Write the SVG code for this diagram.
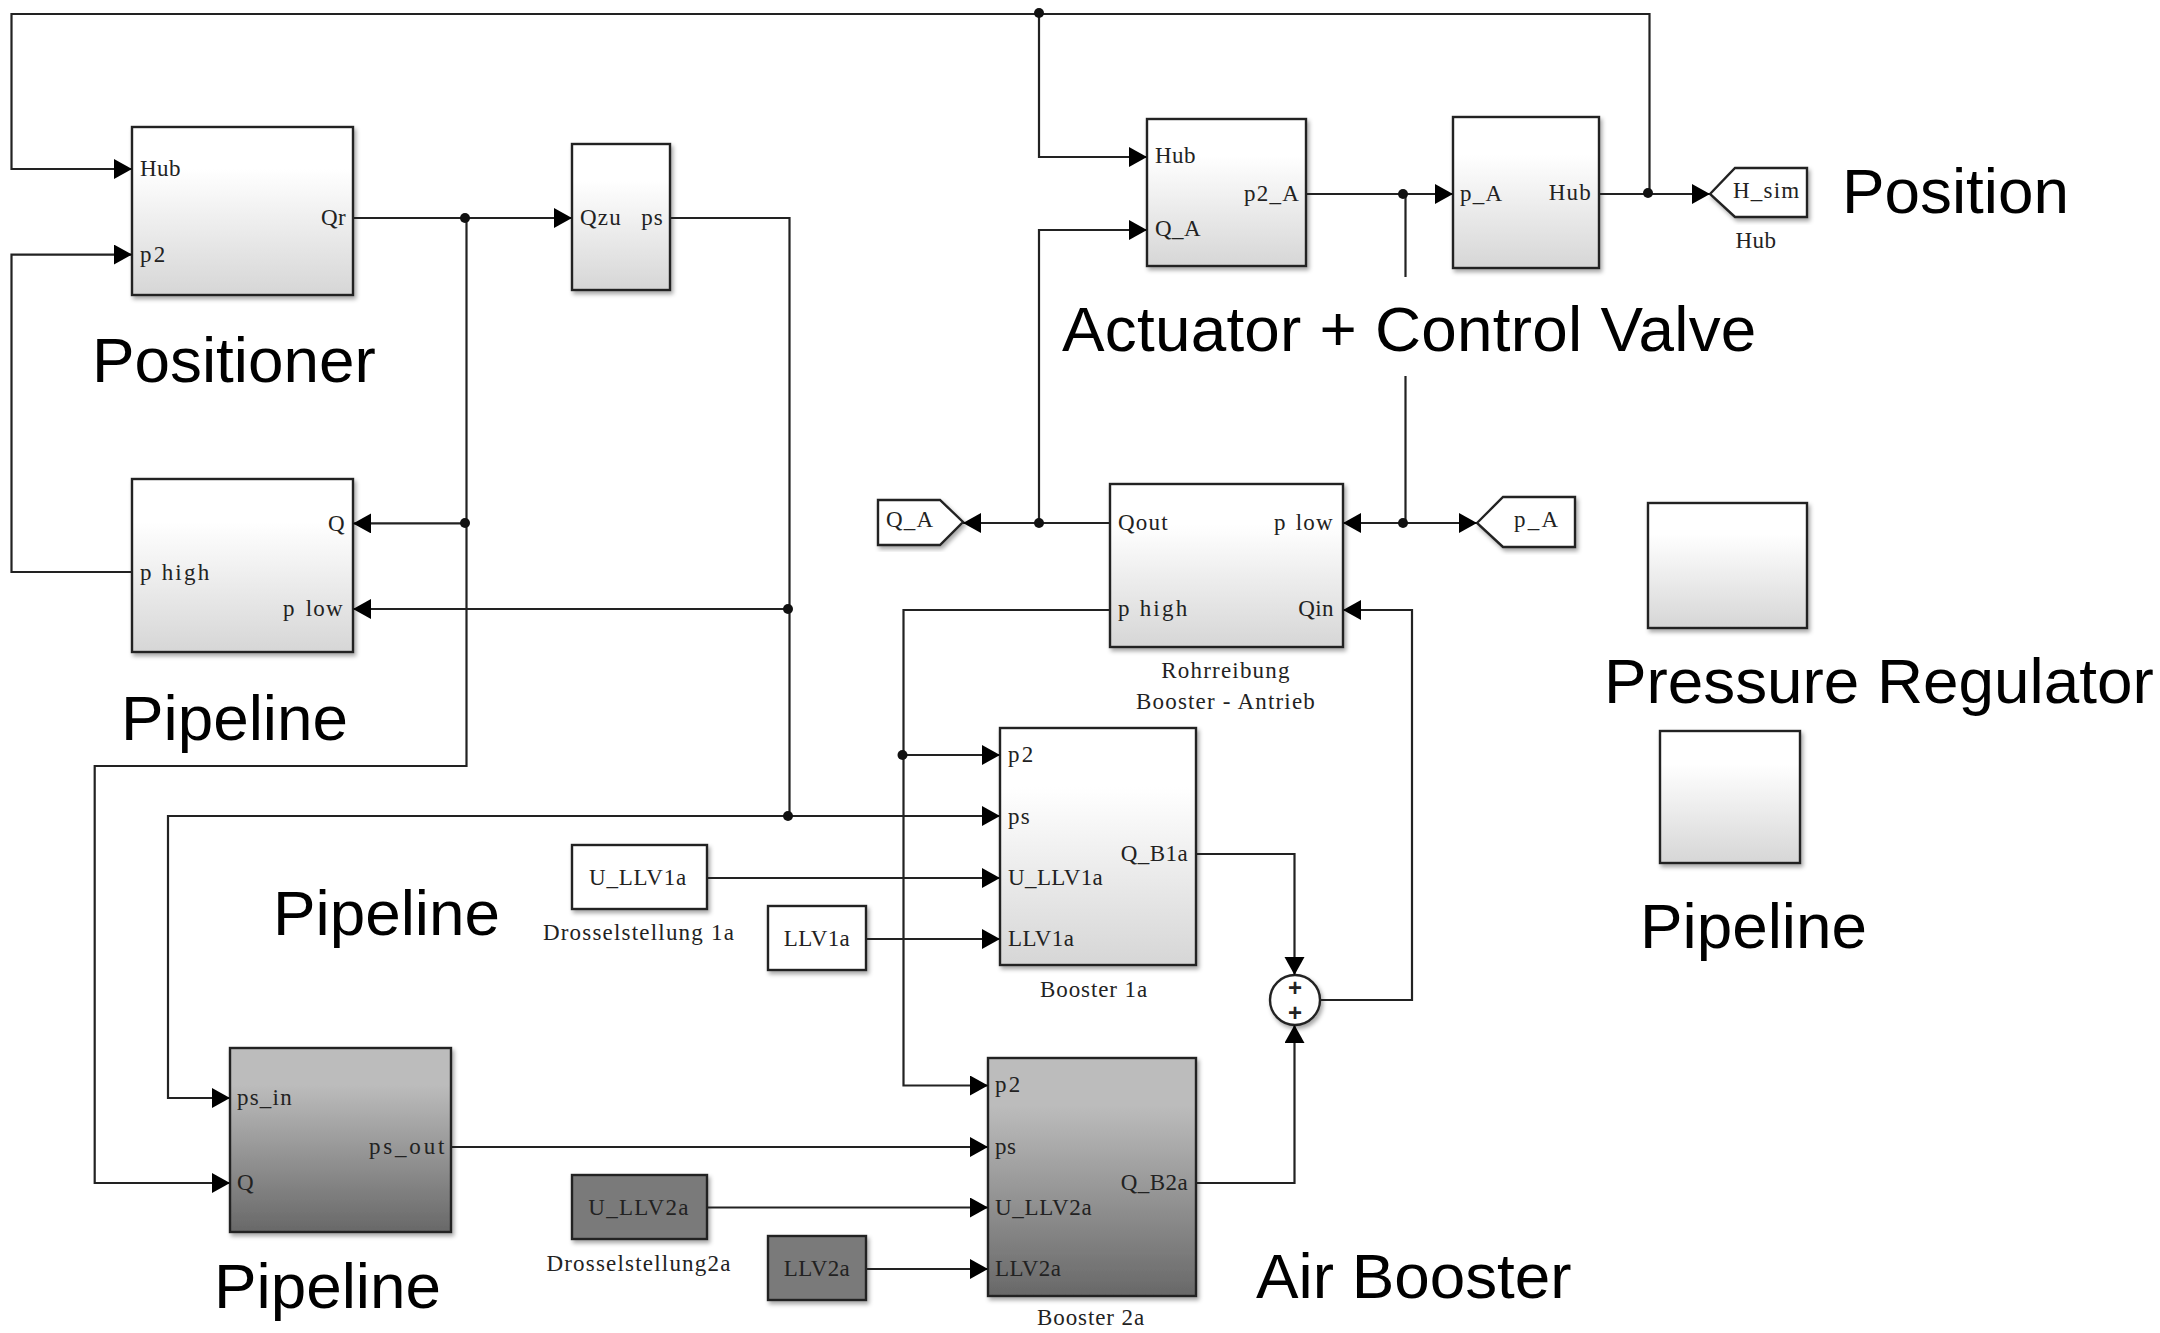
<svg xmlns="http://www.w3.org/2000/svg" width="2160" height="1333" viewBox="0 0 2160 1333">
<style>
.w{fill:none;stroke:#222;stroke-width:2.2}
.a{marker-end:url(#arr)}
.b{stroke:#222;stroke-width:2.4;filter:url(#sh)}
.l{fill:url(#lg)}
.d{fill:url(#dg)}
.wh{fill:#fff}
.dk{fill:#7a7a7a}
.p{font-family:"Liberation Serif",serif;font-size:23px;fill:#222;letter-spacing:.4px}
.s1{letter-spacing:1.2px}
.s2{letter-spacing:2.2px}
.e{text-anchor:end}
.c{text-anchor:middle}
.big{font-family:"Liberation Sans",Arial,sans-serif;font-size:63.800px;fill:#000}
.j{fill:#111}
</style>
<defs>
<linearGradient id="lg" x1="0" y1="0" x2="0" y2="1"><stop offset="0.25" stop-color="#fff"/><stop offset="1" stop-color="#d6d6d6"/></linearGradient>
<linearGradient id="dg" x1="0" y1="0" x2="0" y2="1"><stop offset="0.2" stop-color="#bcbcbc"/><stop offset="1" stop-color="#686868"/></linearGradient>
<filter id="sh" x="-10%" y="-10%" width="125%" height="125%"><feDropShadow dx="2" dy="3" stdDeviation="2" flood-color="#000" flood-opacity=".35"/></filter>
<marker id="arr" markerUnits="userSpaceOnUse" markerWidth="20" markerHeight="22" refX="18" refY="10" orient="auto"><path d="M0,0L18,10L0,20Z" fill="#000"/></marker>
</defs>
<g id="positioner"><rect class="b l" x="132" y="127" width="221" height="168"/><text class="p" x="140" y="176">Hub</text><text class="p s2" x="140" y="262">p2</text><text class="p e" x="346" y="225">Qr</text></g>
<g id="qzu"><rect class="b l" x="572" y="144" width="98" height="146"/><text class="p s1" x="580" y="225">Qzu</text><text class="p s1 e" x="664" y="225">ps</text></g>
<g id="pipeline-top"><rect class="b l" x="132" y="479" width="221" height="173"/><text class="p e" x="345" y="531">Q</text><text class="p s2" x="140" y="580">p high</text><text class="p s1" style="word-spacing:3px" x="283" y="616">p low</text></g>
<g id="actuator"><rect class="b l" x="1147" y="119" width="159" height="147"/><text class="p" x="1155" y="163">Hub</text><text class="p" x="1155" y="236">Q_A</text><text class="p s1 e" x="1300" y="201">p2_A</text></g>
<g id="valve"><rect class="b l" x="1453" y="117" width="146" height="151"/><text class="p s1" x="1460" y="201">p_A</text><text class="p s1 e" x="1592" y="200">Hub</text></g>
<g id="goto-hub"><path class="b wh" d="M1710,194L1735,168H1807V217H1735Z"/><text class="p s1" x="1733" y="198">H_sim</text><text class="p c" x="1756" y="248">Hub</text></g>
<g id="goto-qa"><path class="b wh" d="M878,500H940L963,522L940,545H878Z"/><text class="p s1" x="886" y="527">Q_A</text></g>
<g id="from-pa"><path class="b wh" d="M1477,523L1503,497H1575V547H1503Z"/><text class="p s2" x="1514" y="527">p_A</text></g>
<g id="rohrreibung"><rect class="b l" x="1110" y="484" width="233" height="163"/><text class="p s1" x="1118" y="530">Qout</text><text class="p s1" style="word-spacing:2px" x="1274" y="530">p low</text><text class="p s2" x="1118" y="616">p high</text><text class="p e" x="1334" y="616">Qin</text><text class="p s1 c" x="1226" y="678">Rohrreibung</text><text class="p s1 c" x="1226" y="709">Booster - Antrieb</text></g>
<g id="pressure-regulator"><rect class="b l" x="1648" y="503" width="159" height="125"/></g>
<g id="pipeline-right"><rect class="b l" x="1660" y="731" width="140" height="132"/></g>
<g id="booster-1a"><rect class="b l" x="1000" y="728" width="196" height="237"/><text class="p s2" x="1008" y="762">p2</text><text class="p s1" x="1008" y="824">ps</text><text class="p" x="1008" y="885">U_LLV1a</text><text class="p" x="1008" y="946">LLV1a</text><text class="p e" x="1188" y="861">Q_B1a</text><text class="p c" x="1094" y="997" style="letter-spacing:.9px">Booster 1a</text></g>
<g id="booster-2a"><rect class="b d" x="988" y="1058" width="208" height="238"/><text class="p s2" x="995" y="1092">p2</text><text class="p" x="995" y="1154">ps</text><text class="p" x="995" y="1215" style="letter-spacing:.7px">U_LLV2a</text><text class="p" x="995" y="1276">LLV2a</text><text class="p e" x="1188" y="1190">Q_B2a</text><text class="p c" x="1091" y="1325" style="letter-spacing:.9px">Booster 2a</text></g>
<g id="pipeline-dark"><rect class="b d" x="230" y="1048" width="221" height="184"/><text class="p s1" x="237" y="1105">ps_in</text><text class="p s2" x="369" y="1154" style="letter-spacing:2.800px">ps_out</text><text class="p" x="237" y="1190">Q</text></g>
<g id="u-llv1a"><rect class="b wh" x="572" y="845" width="135" height="64"/><text class="p c" x="638" y="885" style="letter-spacing:.8px">U_LLV1a</text><text class="p s1 c" x="639" y="940">Drosselstellung 1a</text></g>
<g id="llv1a"><rect class="b wh" x="768" y="906" width="98" height="64"/><text class="p c" x="817" y="946">LLV1a</text></g>
<g id="u-llv2a"><rect class="b dk" x="572" y="1175" width="135" height="64"/><text class="p c" x="639" y="1215" style="letter-spacing:1.300px">U_LLV2a</text><text class="p s1 c" x="639" y="1271">Drosselstellung2a</text></g>
<g id="llv2a"><rect class="b dk" x="768" y="1236" width="98" height="64"/><text class="p c" x="817" y="1276">LLV2a</text></g>
<g id="sum"><circle class="b wh" cx="1295" cy="1000" r="25"/><text x="1295" y="996" class="c" style="font-family:'Liberation Sans',sans-serif;font-size:24px;font-weight:bold;fill:#222">+</text><text x="1295" y="1021" class="c" style="font-family:'Liberation Sans',sans-serif;font-size:24px;font-weight:bold;fill:#222">+</text></g>
<g id="connectors">
<path class="w a" d="M1649.500,194V14H11.500V169H132"/>
<path class="w a" d="M1039,14V157H1147"/>
<path class="w a" d="M132,572H11.500V254.600H132"/>
<path class="w a" d="M353,218H572"/>
<path class="w a" d="M466.500,218V766H94.700V1183H230"/>
<path class="w a" d="M466.500,523.400H353"/>
<path class="w" d="M670,218H789.500V816"/>
<path class="w a" d="M789,609H353"/>
<path class="w a" d="M789,816H168V1098H230"/>
<path class="w a" d="M789,816H1000"/>
<path class="w a" d="M1306,194H1453"/>
<path class="w" d="M1405.500,194V277M1405.500,376V523"/>
<path class="w a" d="M1599,194H1710"/>
<path class="w a" d="M1110,523H963"/>
<path class="w a" d="M1039,523V230H1147"/>
<path class="w a" d="M1405,523H1343"/>
<path class="w a" d="M1405,523H1477"/>
<path class="w a" d="M1110,610H903.500V1085.500H988"/>
<path class="w a" d="M903.500,755H1000"/>
<path class="w a" d="M707,878H1000"/>
<path class="w a" d="M866,939H1000"/>
<path class="w a" d="M451,1147H988"/>
<path class="w a" d="M707,1207.500H988"/>
<path class="w a" d="M866,1269H988"/>
<path class="w a" d="M1196,854H1294.500V975"/>
<path class="w a" d="M1196,1183H1294.500V1025"/>
<path class="w a" d="M1320,1000H1412V610H1343"/>
<circle class="j" cx="1039" cy="13" r="5"/><circle class="j" cx="465" cy="218" r="5"/><circle class="j" cx="465" cy="523" r="5"/><circle class="j" cx="788" cy="609" r="5"/><circle class="j" cx="788" cy="816" r="5"/><circle class="j" cx="1403" cy="194" r="5"/><circle class="j" cx="1648" cy="193" r="5"/><circle class="j" cx="1039" cy="523" r="5"/><circle class="j" cx="1403" cy="523" r="5"/><circle class="j" cx="902.500" cy="755" r="5"/>
</g>
<g id="annotations">
<text class="big" x="92" y="381.500">Positioner</text>
<text class="big" x="121" y="740">Pipeline</text>
<text class="big" x="273" y="935">Pipeline</text>
<text class="big" x="214" y="1308">Pipeline</text>
<text class="big" x="1640" y="948">Pipeline</text>
<text class="big" x="1256" y="1298">Air Booster</text>
<text class="big" x="1842" y="213">Position</text>
<text class="big" x="1062" y="351" style="letter-spacing:.25px">Actuator + Control Valve</text>
<text class="big" x="1604" y="703">Pressure Regulator</text>
</g>
</svg>
